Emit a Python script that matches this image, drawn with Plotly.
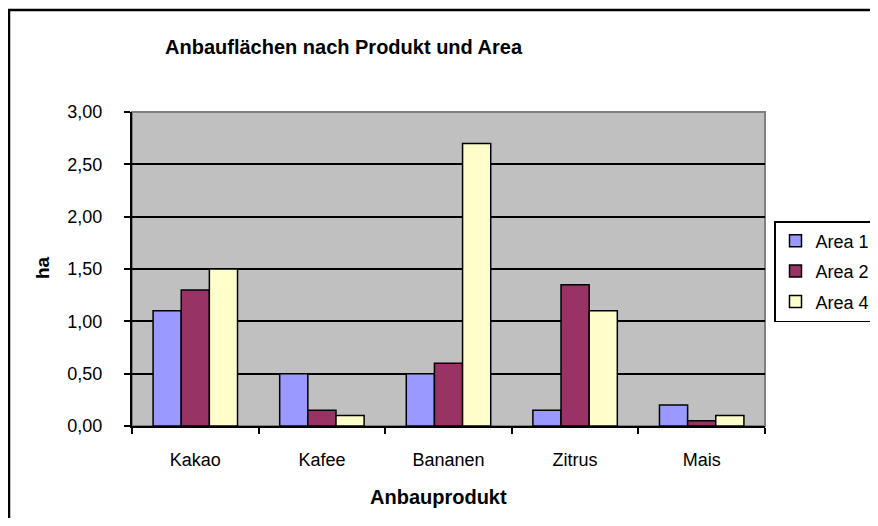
import plotly.graph_objects as go

categories = ["Kakao", "Kafee", "Bananen", "Zitrus", "Mais"]
area1 = [1.10, 0.50, 0.50, 0.15, 0.20]
area2 = [1.30, 0.15, 0.60, 1.35, 0.05]
area4 = [1.50, 0.10, 2.70, 1.10, 0.10]
series_names = ["Area 1", "Area 2", "Area 4"]
colors = ["#9999FF", "#993366", "#FFFFCC"]
y_ticks = [0, 0.5, 1.0, 1.5, 2.0, 2.5, 3.0]

FONT = "Arial, Liberation Sans, sans-serif"
# figure sits at (8,8) in the page (body margin); sized to avoid page scrolling
W, H = 870, 510
L, T = 124, 104
PR, PB = 757, 418          # plot area right / bottom in figure px
R, B = W - PR, H - PB
pw, ph = PR - L, PB - T


def px(x):
    return (x - L) / pw


def py(y):
    return (PB - y) / ph


fig = go.Figure()
for name, vals, col in zip(series_names, [area1, area2, area4], colors):
    fig.add_trace(go.Bar(
        x=categories, y=vals, name=name, legendgroup=name,
        marker=dict(color=col, line=dict(color="black", width=1.5)),
    ))

shapes = [
    dict(type="rect", xref="paper", yref="paper", x0=0, x1=1, y0=0, y1=1,
         line=dict(color="#808080", width=2), layer="below"),
    dict(type="rect", xref="paper", yref="paper",
         x0=px(1), x1=px(W + 20), y0=py(H + 20), y1=py(2),
         line=dict(color="black", width=2.5), fillcolor="rgba(0,0,0,0)"),
]

fig.update_layout(
    width=W, height=H,
    margin=dict(l=L, r=R, t=T, b=B, autoexpand=False),
    paper_bgcolor="white", plot_bgcolor="#C0C0C0",
    separators=",.",
    font=dict(family=FONT, size=18, color="black"),
    barmode="group", bargap=0.333, bargroupgap=0,
    showlegend=True,
    legend=dict(x=px(868), xanchor="right", y=py(213), yanchor="top",
                bgcolor="white", bordercolor="black", borderwidth=1.5,
                font=dict(size=18, family=FONT), tracegroupgap=4,
                itemwidth=30, traceorder="grouped"),
    shapes=shapes,
    annotations=[
        dict(text="<b>Anbauflächen nach Produkt und Area</b>", xref="paper", yref="paper",
             x=px(155), y=py(39), showarrow=False, xanchor="left", yanchor="middle",
             font=dict(size=20, family=FONT)),
        dict(text="<b>ha</b>", xref="paper", yref="paper", x=px(34), y=py(260),
             textangle=-90, showarrow=False, font=dict(size=19, family=FONT),
             xanchor="center", yanchor="middle"),
        dict(text="<b>Anbauprodukt</b>", xref="paper", yref="paper",
             x=px(360), y=py(489), showarrow=False,
             font=dict(size=20, family=FONT), xanchor="left", yanchor="middle"),
    ],
)

fig.update_xaxes(
    showline=True, linecolor="black", linewidth=2,
    ticks="outside", ticklen=6, tickwidth=1.5, tickcolor="black",
    tickson="boundaries", showgrid=False, ticklabelstandoff=16,
    tickfont=dict(size=18, family=FONT),
)
fig.update_yaxes(
    range=[0, 3.0], tickvals=y_ticks, tickformat=".2f",
    showline=True, linecolor="black", linewidth=2,
    ticks="outside", ticklen=6, tickwidth=1.5, tickcolor="black",
    showgrid=True, gridcolor="black", gridwidth=1.5,
    zeroline=False, ticklabelstandoff=18,
    tickfont=dict(size=18, family=FONT),
)

fig.write_html("out.html")
